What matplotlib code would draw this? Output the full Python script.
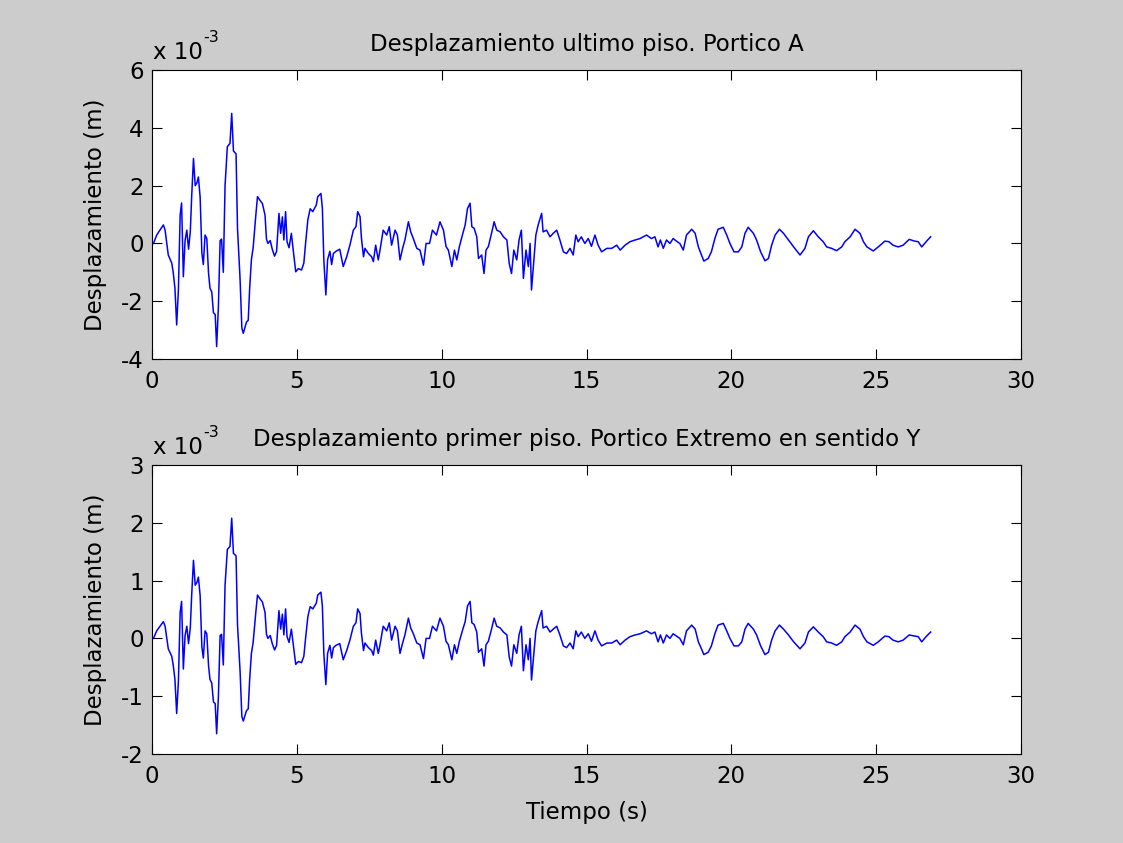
import matplotlib
matplotlib.use('Agg')
import matplotlib.pyplot as plt

# tiempo (s), desplazamientos en unidades de 1e-3 m
t = [0.05, 0.16, 0.39, 0.45, 0.56, 0.68, 0.73, 0.79, 0.85, 0.91,
     0.97, 1.02, 1.08, 1.14, 1.20, 1.26, 1.32, 1.37, 1.43, 1.49,
     1.55, 1.60, 1.66, 1.72, 1.77, 1.83, 1.89, 1.95, 2.00, 2.06,
     2.12, 2.18, 2.23, 2.29, 2.35, 2.40, 2.46, 2.52, 2.60, 2.69,
     2.75, 2.81, 2.90, 2.95, 3.04, 3.10, 3.15, 3.26, 3.32, 3.37,
     3.43, 3.49, 3.58, 3.64, 3.72, 3.81, 3.90, 3.95, 4.00, 4.08,
     4.15, 4.23, 4.30, 4.38, 4.44, 4.50, 4.55, 4.61, 4.66, 4.73,
     4.81, 4.87, 4.96, 5.05, 5.16, 5.24, 5.30, 5.38, 5.46, 5.55,
     5.67, 5.72, 5.83, 5.88, 5.93, 6.00, 6.06, 6.14, 6.20, 6.26,
     6.35, 6.48, 6.60, 6.72, 6.83, 6.95, 7.04, 7.10, 7.18, 7.23,
     7.30, 7.35, 7.47, 7.58, 7.64, 7.72, 7.81, 7.87, 7.98, 8.10,
     8.19, 8.27, 8.39, 8.47, 8.56, 8.65, 8.73, 8.85, 8.93, 9.02,
     9.14, 9.25, 9.37, 9.46, 9.58, 9.68, 9.82, 9.94, 10.06, 10.15,
     10.23, 10.35, 10.44, 10.52, 10.61, 10.73, 10.81, 10.89, 10.98, 11.04,
     11.12, 11.21, 11.27, 11.38, 11.46, 11.53, 11.61, 11.72, 11.81, 11.90,
     12.02, 12.13, 12.25, 12.33, 12.41, 12.49, 12.59, 12.67, 12.75, 12.82,
     12.91, 12.99, 13.05, 13.10, 13.18, 13.25, 13.33, 13.45, 13.50, 13.62,
     13.74, 13.85, 13.97, 14.08, 14.20, 14.31, 14.43, 14.54, 14.63, 14.71,
     14.82, 14.94, 15.06, 15.17, 15.29, 15.40, 15.52, 15.70, 15.87, 16.04,
     16.16, 16.33, 16.50, 16.68, 16.85, 17.07, 17.24, 17.36, 17.47, 17.55,
     17.65, 17.76, 17.88, 17.99, 18.13, 18.22, 18.34, 18.45, 18.63, 18.75,
     18.86, 18.95, 19.05, 19.20, 19.31, 19.43, 19.54, 19.72, 19.84, 19.95,
     20.09, 20.24, 20.36, 20.47, 20.58, 20.76, 20.87, 21.01, 21.16, 21.28,
     21.39, 21.51, 21.66, 21.80, 21.97, 22.15, 22.37, 22.54, 22.66, 22.83,
     23.00, 23.17, 23.29, 23.46, 23.63, 23.81, 23.92, 24.10, 24.27, 24.44,
     24.56, 24.68, 24.90, 25.07, 25.30, 25.44, 25.58, 25.76, 25.93, 26.14,
     26.33, 26.45, 26.57, 26.74, 26.88]

ultimo = [0.00, 0.29, 0.64, 0.46, -0.40, -0.68, -1.00, -1.55, -2.82, -1.60,
          0.98, 1.40, -1.15, 0.10, 0.46, -0.20, 0.40, 1.67, 2.94, 2.00,
          2.10, 2.30, 1.60, -0.33, -0.73, 0.29, 0.17, -1.03, -1.55, -1.67,
          -2.40, -2.46, -3.57, -2.20, 0.10, 0.15, -1.00, 2.00, 3.35, 3.46,
          4.50, 3.20, 3.10, 0.52, -1.27, -2.93, -3.11, -2.72, -2.66, -1.55,
          -0.56, -0.15, 0.95, 1.62, 1.50, 1.38, 0.98, 0.15, 0.00, 0.10,
          -0.20, -0.44, -0.27, 1.04, 0.35, 0.92, 0.12, 1.10, 0.06, -0.15,
          0.35, -0.20, -0.98, -0.87, -0.92, -0.68, 0.00, 0.83, 1.20, 1.10,
          1.33, 1.62, 1.73, 1.22, -0.56, -1.78, -0.56, -0.27, -0.73, -0.35,
          -0.27, -0.20, -0.80, -0.46, -0.06, 0.46, 0.58, 1.10, 0.93, 0.17,
          -0.46, -0.17, -0.35, -0.46, -0.63, -0.06, -0.57, -0.23, 0.46, 0.29,
          0.58, -0.06, 0.46, 0.29, -0.57, -0.17, 0.12, 0.75, 0.40, 0.17,
          -0.17, -0.23, -0.75, 0.00, 0.00, 0.46, 0.29, 0.75, 0.46, -0.11,
          -0.23, -0.80, -0.23, -0.57, -0.11, 0.35, 0.64, 1.21, 1.39, 0.58,
          0.52, 0.23, -0.52, -0.40, -1.04, -0.23, -0.11, 0.35, 0.75, 0.46,
          0.40, 0.23, 0.12, -0.69, -1.04, -0.23, -0.57, 0.12, 0.46, -1.21,
          -0.23, -0.80, 0.00, -1.61, -0.57, 0.29, 0.64, 1.04, 0.40, 0.46,
          0.23, 0.35, 0.46, 0.12, -0.29, -0.35, -0.17, -0.40, 0.29, 0.06,
          0.23, 0.00, 0.17, -0.10, 0.29, -0.06, -0.29, -0.17, -0.17, -0.06,
          -0.23, -0.06, 0.06, 0.12, 0.17, 0.29, 0.17, 0.23, -0.12, 0.12,
          -0.17, 0.12, 0.00, 0.17, 0.06, 0.00, -0.23, 0.29, 0.49, 0.35,
          -0.12, -0.35, -0.61, -0.52, -0.29, 0.17, 0.49, 0.56, 0.29, 0.00,
          -0.29, -0.29, -0.12, 0.35, 0.56, 0.35, 0.12, -0.29, -0.60, -0.52,
          -0.06, 0.29, 0.49, 0.35, 0.12, -0.12, -0.40, -0.17, 0.23, 0.44,
          0.23, 0.06, -0.12, -0.17, -0.25, -0.12, 0.06, 0.23, 0.49, 0.35,
          0.06, -0.12, -0.26, -0.12, 0.08, 0.06, -0.06, -0.12, -0.06, 0.14,
          0.08, 0.06, -0.12, 0.08, 0.23]

primero = [0.00, 0.13, 0.29, 0.21, -0.18, -0.31, -0.46, -0.71, -1.30, -0.74,
           0.45, 0.64, -0.53, 0.05, 0.21, -0.09, 0.18, 0.77, 1.35, 0.92,
           0.97, 1.06, 0.74, -0.15, -0.34, 0.13, 0.08, -0.47, -0.71, -0.77,
           -1.10, -1.13, -1.65, -1.01, 0.05, 0.07, -0.46, 0.92, 1.54, 1.59,
           2.08, 1.47, 1.43, 0.24, -0.58, -1.35, -1.43, -1.25, -1.22, -0.71,
           -0.26, -0.07, 0.44, 0.75, 0.69, 0.63, 0.45, 0.07, 0.00, 0.05,
           -0.09, -0.20, -0.12, 0.48, 0.16, 0.42, 0.06, 0.51, 0.03, -0.07,
           0.16, -0.09, -0.45, -0.40, -0.42, -0.31, 0.00, 0.38, 0.55, 0.51,
           0.61, 0.75, 0.80, 0.56, -0.26, -0.80, -0.26, -0.12, -0.34, -0.16,
           -0.12, -0.09, -0.37, -0.21, -0.03, 0.21, 0.27, 0.51, 0.43, 0.08,
           -0.21, -0.08, -0.16, -0.21, -0.29, -0.03, -0.26, -0.11, 0.21, 0.13,
           0.27, -0.03, 0.21, 0.13, -0.26, -0.08, 0.06, 0.35, 0.18, 0.08,
           -0.08, -0.11, -0.35, 0.00, 0.00, 0.21, 0.13, 0.35, 0.21, -0.05,
           -0.11, -0.37, -0.11, -0.26, -0.05, 0.16, 0.29, 0.56, 0.64, 0.27,
           0.24, 0.11, -0.24, -0.18, -0.48, -0.11, -0.05, 0.16, 0.35, 0.21,
           0.18, 0.11, 0.06, -0.32, -0.48, -0.11, -0.26, 0.06, 0.21, -0.56,
           -0.11, -0.37, 0.00, -0.72, -0.26, 0.13, 0.29, 0.48, 0.18, 0.21,
           0.11, 0.16, 0.21, 0.06, -0.13, -0.16, -0.08, -0.18, 0.13, 0.03,
           0.11, 0.00, 0.08, -0.05, 0.13, -0.03, -0.13, -0.08, -0.08, -0.03,
           -0.11, -0.03, 0.03, 0.06, 0.08, 0.13, 0.08, 0.11, -0.06, 0.06,
           -0.08, 0.06, 0.00, 0.08, 0.03, 0.00, -0.11, 0.13, 0.23, 0.16,
           -0.06, -0.16, -0.28, -0.24, -0.13, 0.08, 0.23, 0.26, 0.13, 0.00,
           -0.13, -0.13, -0.06, 0.16, 0.26, 0.16, 0.06, -0.13, -0.28, -0.24,
           -0.03, 0.13, 0.23, 0.16, 0.06, -0.06, -0.18, -0.08, 0.11, 0.20,
           0.11, 0.03, -0.06, -0.08, -0.12, -0.06, 0.03, 0.11, 0.23, 0.16,
           0.03, -0.06, -0.12, -0.06, 0.04, 0.03, -0.03, -0.06, -0.03, 0.06,
           0.04, 0.03, -0.06, 0.04, 0.11]

xticks = [0, 5, 10, 15, 20, 25, 30]

plt.rcParams['font.family'] = ['DejaVu Sans']
plt.rcParams['axes.unicode_minus'] = False
fs = 16.5

fig = plt.figure(figsize=(11.23, 8.43), dpi=100, facecolor='#cccccc')

ax1 = fig.add_axes([0.1354, 0.5741, 0.7738, 0.3428])
ax2 = fig.add_axes([0.1354, 0.1056, 0.7738, 0.3428])

for ax, y, lim, yt, title in [
        (ax1, ultimo, (-4, 6), [-4, -2, 0, 2, 4, 6], 'Desplazamiento ultimo piso. Portico A'),
        (ax2, primero, (-2, 3), [-2, -1, 0, 1, 2, 3], 'Desplazamiento primer piso. Portico Extremo en sentido Y')]:
    ax.plot(t, y, color='#0000ff', linewidth=1.1)
    ax.set_xlim(0, 30)
    ax.set_ylim(*lim)
    ax.set_xticks(xticks)
    ax.set_yticks(yt)
    ax.tick_params(direction='in', length=7, width=0.8, top=True, right=True,
                   labelsize=fs, colors='black')
    ax.tick_params(axis='x', pad=8)
    ax.tick_params(axis='y', pad=6)
    for s in ax.spines.values():
        s.set_linewidth(0.8)
    ax.set_ylabel('Desplazamiento (m)', fontsize=fs, labelpad=10)
    ax.set_title(title, fontsize=fs, pad=14)
    ax.annotate('x 10', xy=(0, 1), xycoords='axes fraction', xytext=(1, 8),
                textcoords='offset points', fontsize=fs, ha='left', va='baseline')
    ax.annotate('-3', xy=(0, 1), xycoords='axes fraction', xytext=(37, 20),
                textcoords='offset points', fontsize=fs * 0.7, ha='left', va='baseline')

ax2.set_xlabel('Tiempo (s)', fontsize=fs, labelpad=9)

plt.savefig('out.png', dpi=100, facecolor=fig.get_facecolor())
